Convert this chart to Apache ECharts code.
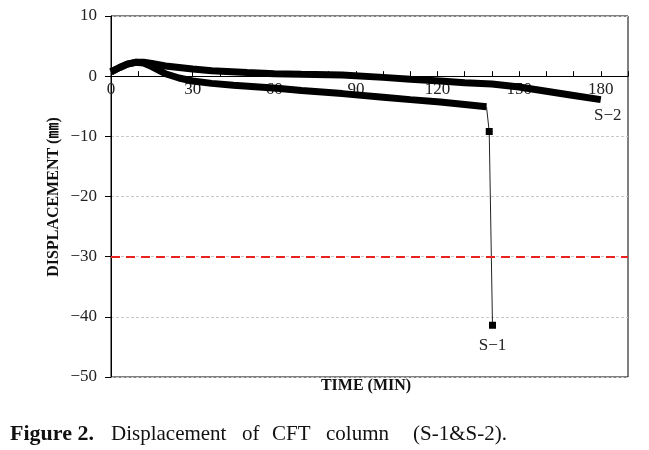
<!DOCTYPE html>
<html>
<head>
<meta charset="utf-8">
<script src="https://cdn.jsdelivr.net/npm/echarts@6/dist/echarts.min.js"></script>
<style>html,body{margin:0;padding:0;background:#fff}#c{width:649px;height:450px}</style>
</head>
<body>
<div id="c"></div>
<script>
// S-1 (thick part, then failure tail)
var s1Time = [0, 3, 6, 9, 12, 15, 20, 25, 30, 37, 45, 61, 70, 85, 100, 110, 121, 130, 138];
var s1Disp = [0.7, 1.4, 2.0, 2.3, 2.2, 1.6, 0.4, -0.3, -0.8, -1.2, -1.5, -2.0, -2.4, -2.9, -3.5, -3.9, -4.3, -4.7, -5.1];
var s1TailTime = [138, 139, 140.2];
var s1TailDisp = [-5.1, -9.2, -41.4];
// S-2
var s2Time = [0, 3, 6, 9, 12, 15, 20, 30, 37, 50, 60, 70, 85, 100, 110, 121, 130, 140, 150, 160, 170, 180];
var s2Disp = [0.7, 1.4, 2.0, 2.3, 2.3, 2.1, 1.7, 1.2, 0.9, 0.6, 0.4, 0.3, 0.2, -0.2, -0.5, -0.8, -1.1, -1.3, -1.8, -2.5, -3.2, -3.9];
var limitLine = -30;
var xLabels = [0, 30, 60, 90, 120, 150, 180];

function pairs(t, v) { return t.map(function (x, i) { return [x, v[i]]; }); }

var serif = '"Liberation Serif","DejaVu Serif",serif';
var chart = echarts.init(document.getElementById('c'), null, {renderer: 'canvas'});

var gridTop = 16, gridBottom = 73, H = 450;
var yMin = -50, yMax = 10;
var zeroOffset = -(H - gridTop - gridBottom) * (yMax - 0) / (yMax - yMin);

var s1Tail = pairs(s1TailTime, s1TailDisp).map(function (p, i) {
  var d = {value: p};
  if (i === 0) d.symbolSize = 0;
  return d;
});
s1Tail[s1Tail.length - 1].label = {show: true, formatter: 'S\u22121', position: 'bottom', distance: 8,
  fontFamily: serif, fontSize: 17, color: '#222'};

var s2Data = pairs(s2Time, s2Disp).map(function (p) { return {value: p}; });
s2Data[s2Data.length - 1].label = {show: true, formatter: 'S\u22122', position: 'bottom', distance: 7, offset: [7, 0],
  fontFamily: serif, fontSize: 17, color: '#222'};

chart.setOption({
  animation: false,
  grid: {left: 111, right: 21, top: gridTop, bottom: gridBottom, show: true, borderColor: '#000', borderWidth: 1},
  xAxis: {
    type: 'value', min: 0, max: 190, interval: 10, position: 'top', offset: zeroOffset,
    axisLine: {onZero: false, lineStyle: {color: '#000', width: 1}},
    axisTick: {inside: false, length: 5, lineStyle: {color: '#000'}},
    axisLabel: {
      inside: true, margin: 5, fontFamily: serif, fontSize: 17, color: '#222',
      formatter: function (v) { return xLabels.indexOf(v) >= 0 ? String(v) : ''; }
    },
    splitLine: {show: false}
  },
  yAxis: {
    type: 'value', min: yMin, max: yMax, interval: 10,
    axisLine: {show: true, onZero: false, lineStyle: {color: '#000'}},
    axisTick: {show: true, inside: false, length: 6, lineStyle: {color: '#000'}},
    axisLabel: {
      margin: 14, fontFamily: serif, fontSize: 17, color: '#222',
      formatter: function (v) { return v < 0 ? '\u2212' + Math.abs(v) : String(v); }
    },
    splitLine: {show: true, lineStyle: {color: '#c8c8c8', type: [3, 2], width: 1}}
  },
  series: [
    {
      name: 'S-1', type: 'line', data: pairs(s1Time, s1Disp), showSymbol: false, symbol: 'none',
      lineStyle: {color: '#000', width: 7}, z: 3,
      markLine: {
        silent: true, symbol: 'none', label: {show: false},
        lineStyle: {color: '#e8231f', width: 2, type: [9, 6]},
        data: [{yAxis: limitLine}]
      }
    },
    {
      name: 'S-1 tail', type: 'line', data: s1Tail, symbol: 'rect', symbolSize: 7,
      itemStyle: {color: '#000'}, lineStyle: {color: '#222', width: 1}, z: 3
    },
    {
      name: 'S-2', type: 'line', data: s2Data, showSymbol: true, symbolSize: 0,
      lineStyle: {color: '#000', width: 7}, itemStyle: {color: '#000'}, z: 3
    }
  ],
  graphic: [
    {type: 'text', x: 54, y: 197, rotation: Math.PI / 2,
      style: {text: 'DISPLACEMENT (\u339C)', font: 'bold 16px ' + serif + ',"Noto Sans CJK KR"', fill: '#111',
        textAlign: 'center', textVerticalAlign: 'middle'}},
    {type: 'text', x: 366, y: 386,
      style: {text: 'TIME (MIN)', font: 'bold 16px ' + serif, fill: '#111', textAlign: 'center', textVerticalAlign: 'middle'}},
    {type: 'text', x: 10, y: 434,
      style: {text: 'Figure 2.', font: 'bold 22px ' + serif, fill: '#111', textAlign: 'left', textVerticalAlign: 'middle'}},
    {type: 'text', x: 111, y: 434,
      style: {text: 'Displacement', font: '21px ' + serif, fill: '#111', textAlign: 'left', textVerticalAlign: 'middle'}},
    {type: 'text', x: 242, y: 434,
      style: {text: 'of', font: '21px ' + serif, fill: '#111', textAlign: 'left', textVerticalAlign: 'middle'}},
    {type: 'text', x: 272, y: 434,
      style: {text: 'CFT', font: '21px ' + serif, fill: '#111', textAlign: 'left', textVerticalAlign: 'middle'}},
    {type: 'text', x: 326, y: 434,
      style: {text: 'column', font: '21px ' + serif, fill: '#111', textAlign: 'left', textVerticalAlign: 'middle'}},
    {type: 'text', x: 413, y: 434,
      style: {text: '(S-1&S-2).', font: '21px ' + serif, fill: '#111', textAlign: 'left', textVerticalAlign: 'middle'}}
  ]
});
</script>
</body>
</html>
